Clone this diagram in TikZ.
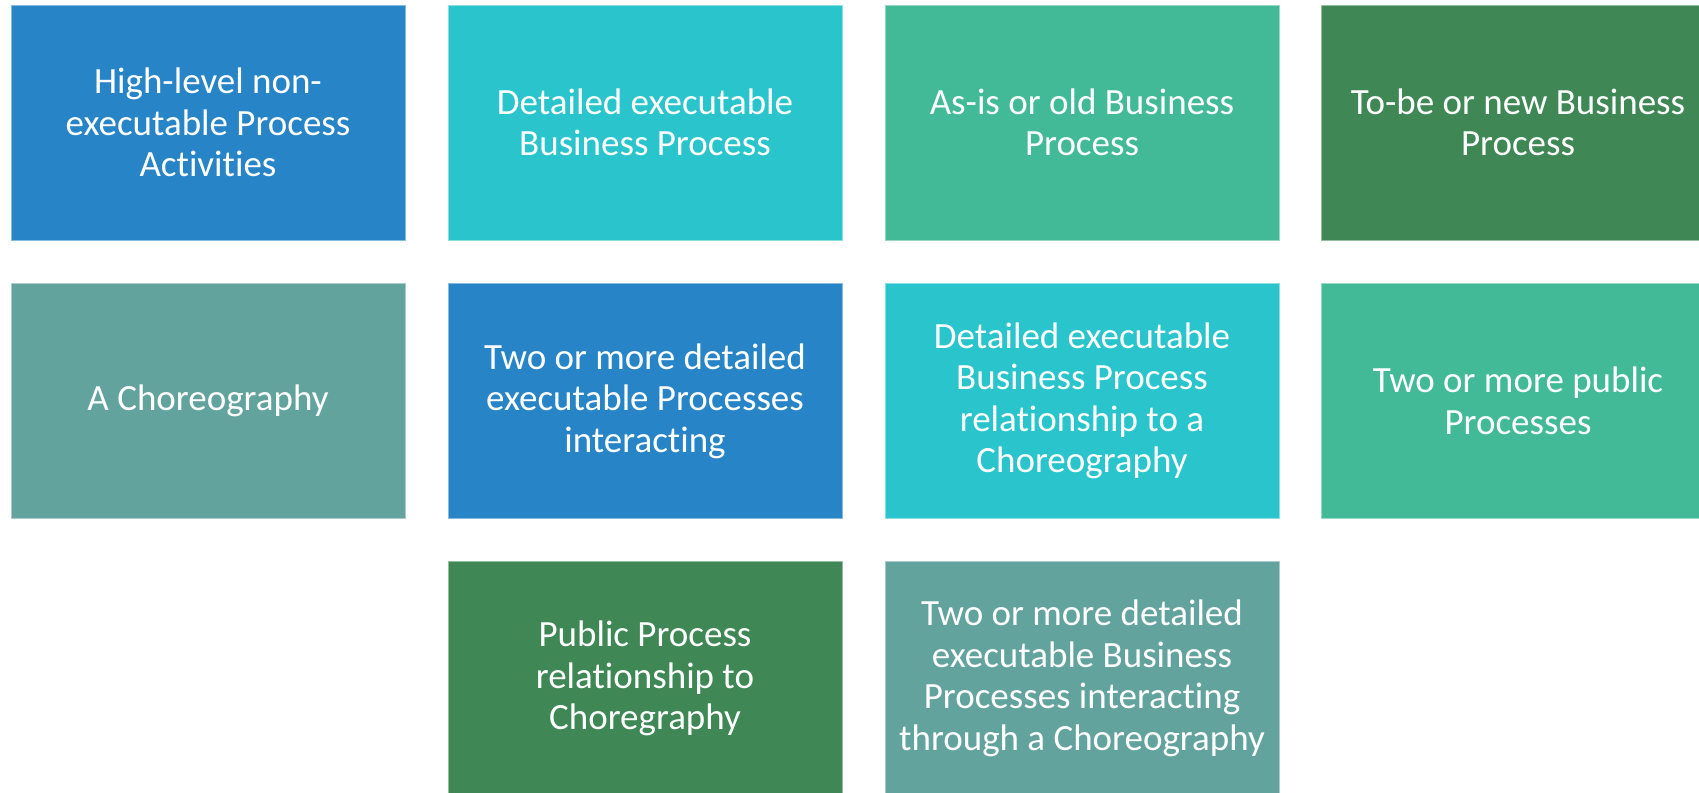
\documentclass[tikz,border=0pt]{standalone}
\usepackage{fontspec}
\setmainfont{Carlito}[Ligatures={NoCommon,NoContextual}]
\definecolor{cblue}{HTML}{2784C7}
\definecolor{ccyan}{HTML}{29C4CC}
\definecolor{csea}{HTML}{43BA97}
\definecolor{cgreen}{HTML}{3F8855}
\definecolor{cgray}{HTML}{63A39E}
\tikzset{
  cell/.style={rectangle, minimum width=394pt, minimum height=235pt, inner sep=0pt,
    fill=#1, draw=#1!55!white, line width=0.8pt, text=white, align=center,
    font=\fontsize{37}{41.5}\selectfont}
}
\begin{document}
\begin{tikzpicture}[x=1pt,y=-1pt]
\useasboundingbox (0,0) rectangle (1699,792);
\clip (0,0) rectangle (1699,792);
\node[cell=cblue]  (a1) at (208,122.5) {High-level non-\\executable Process\\Activities};
\node[cell=ccyan]  (a2) at (645,122.5) {Detailed executable\\Business Process};
\node[cell=csea]   (a3) at (1082,122.5) {As-is or old Business\\Process};
\node[cell=cgreen] (a4) at (1518,122.5) {To-be or new Business\\Process};
\node[cell=cgray]  (b1) at (208,401) {A Choreography};
\node[cell=cblue]  (b2) at (645,401) {Two or more detailed\\executable Processes\\interacting};
\node[cell=ccyan]  (b3) at (1082,401) {Detailed executable\\Business Process\\relationship to a\\Choreography};
\node[cell=csea]   (b4) at (1518,401) {Two or more public\\Processes};
\node[cell=cgreen] (c2) at (645,678.5) {Public Process\\relationship to\\Choregraphy};
\node[cell=cgray]  (c3) at (1082,678.5) {Two or more detailed\\executable Business\\Processes interacting\\through a Choreography};
\end{tikzpicture}
\end{document}
